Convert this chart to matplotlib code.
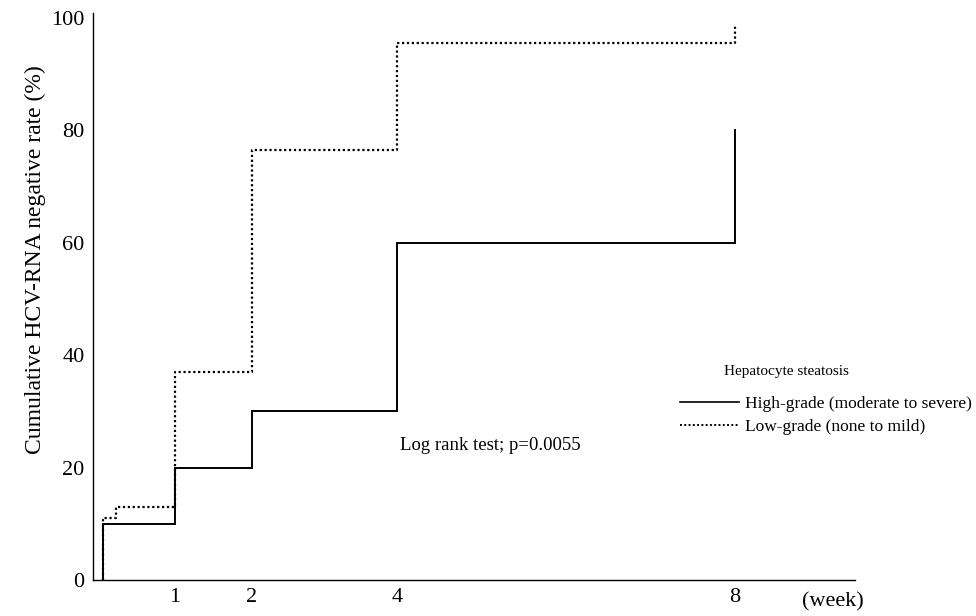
import numpy as np
import matplotlib
matplotlib.use("Agg")
import matplotlib.pyplot as plt
from matplotlib.lines import Line2D

plt.rcParams["font.family"] = ["Liberation Serif", "DejaVu Serif"]

# step times (week) and cumulative rate (%) after each step
high_weeks = [0, 1, 2, 4, 8]
high_rate = [10, 20, 30, 60, 80]
low_weeks = [0, 0.18, 1, 2, 4, 8]
low_rate = [11, 13, 37, 76.5, 95.5, 98.5]

tick_weeks = [1, 2, 4, 8]
y_ticks = [0, 20, 40, 60, 80, 100]

# the original week axis is not evenly spaced; piecewise mapping
anchor_w = np.array([-1, 0, 1, 2, 4, 8, 11])
anchor_p = np.array([-69, 0, 72, 149, 294, 632, 885.5])


def fwd(x):
    return np.interp(x, anchor_w, anchor_p)


def inv(p):
    return np.interp(p, anchor_p, anchor_w)


def step_xy(weeks, rate):
    xs = [weeks[0]]
    ys = [0]
    for w, r in zip(weeks, rate):
        xs += [w, w]
        ys += [ys[-1], r]
    return xs, ys


fig = plt.figure(figsize=(9.76, 6.16), dpi=100)
ax = fig.add_axes([93 / 976, 36 / 616, (855 - 93) / 976, (603 - 36) / 616])
ax.set_xscale("function", functions=(fwd, inv))

hx, hy = step_xy(high_weeks, high_rate)
lx, ly = step_xy(low_weeks, low_rate)
ax.plot(hx[1:], hy[1:], color="black", lw=1.4, solid_joinstyle="miter")
ax.plot(lx[1:], ly[1:], color="black", lw=1.6, linestyle=(0, (1, 1.2)))

ax.set_xlim(inv(-10), inv(752))
ax.set_ylim(0, 100.9)

ax.spines["top"].set_visible(False)
ax.spines["right"].set_visible(False)
for s in ["left", "bottom"]:
    ax.spines[s].set_linewidth(1.0)

ax.set_xticks(tick_weeks)
ax.set_xticklabels([str(t) for t in tick_weeks], fontsize=16)
ax.set_yticks(y_ticks)
ax.set_yticklabels([str(t) for t in y_ticks], fontsize=16)
ax.tick_params(axis="y", length=0, pad=6)
ax.tick_params(axis="x", length=0, pad=6)
ax.minorticks_off()

ax.set_ylabel("Cumulative HCV-RNA negative rate (%)", fontsize=17)
ax.yaxis.set_label_coords(-0.062, 0.565)
fig.text(833 / 976, 1 - 602 / 616, "(week)", fontsize=16, ha="center", va="center")

fig.text(490 / 976, 1 - 446 / 616, "Log rank test; p=0.0055", fontsize=13.5,
         ha="center", va="center")

handles = [
    Line2D([], [], color="black", lw=1.2),
    Line2D([], [], color="black", lw=1.4, linestyle=(0, (1, 1.2))),
]
fig.text(786 / 976, 1 - 372 / 616, "Hepatocyte steatosis", fontsize=11,
         ha="center", va="center")
fig.legend(handles, ["High-grade (moderate to severe)", "Low-grade (none to mild)"],
           loc="upper left", bbox_to_anchor=(680 / 976, 1 - 396 / 616),
           frameon=False, fontsize=12.5, handlelength=3.4, handletextpad=0.35,
           labelspacing=0.4, borderaxespad=0, borderpad=0)

fig.savefig("out.png", dpi=100)
